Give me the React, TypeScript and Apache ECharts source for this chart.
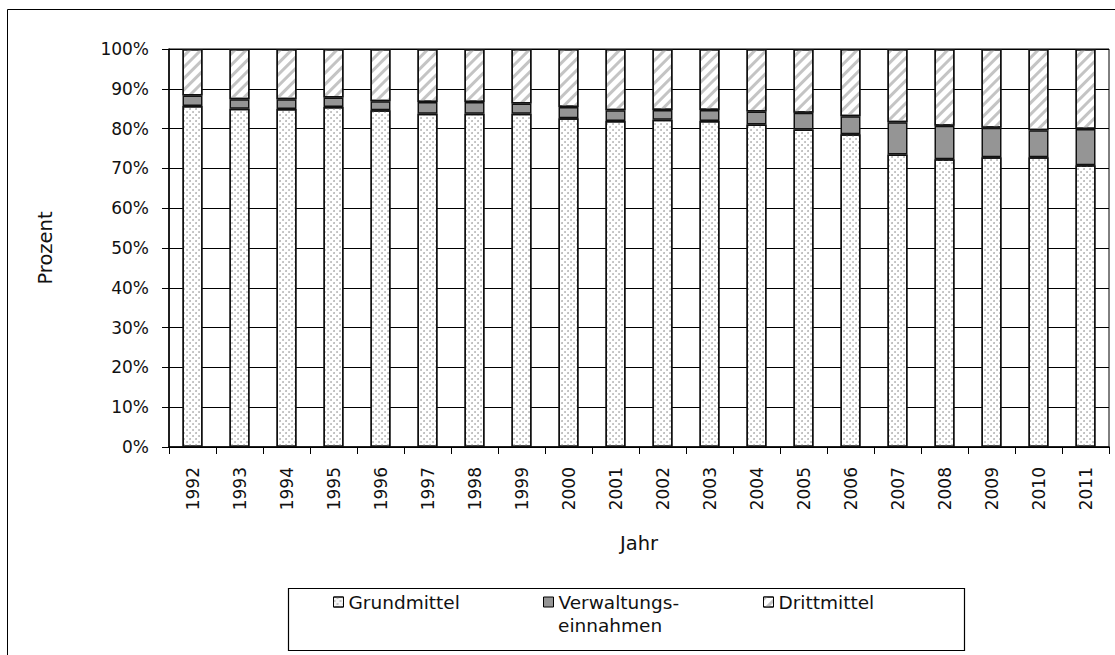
import React, { useEffect, useRef } from "react";
import * as echarts from "echarts";

const years = ["1992","1993","1994","1995","1996","1997","1998","1999","2000","2001","2002","2003","2004","2005","2006","2007","2008","2009","2010","2011"];
const grundmittel = [85.7,85.0,84.9,85.4,84.6,83.7,83.7,83.7,82.6,81.9,82.2,81.9,81.0,79.8,78.6,73.5,72.3,72.8,72.8,70.8];
const verwaltung = [2.6,2.4,2.5,2.4,2.3,3.0,3.0,2.6,2.8,2.7,2.5,2.8,3.3,4.2,4.5,8.1,8.4,7.4,6.8,9.1];
const drittmittel = [11.7,12.6,12.6,12.2,13.1,13.3,13.3,13.7,14.6,15.4,15.3,15.3,15.7,16.0,16.9,18.4,19.3,19.8,20.4,20.1];
const yTicks = [0,10,20,30,40,50,60,70,80,90,100];

const FONT = "DejaVu Sans";
const FS = 17;
const FS2 = 18.5;

const dotDecal = {
  symbol: "circle",
  symbolSize: 0.9,
  color: "#b0b0b0",
  dashArrayX: [[1.6, 3.4], [0, 2.5, 1.6, 0.9]],
  dashArrayY: [1.6, 0.9],
};
const stripeDecal = {
  symbol: "rect",
  symbolSize: 1,
  color: "#c4c4c4",
  dashArrayX: [1, 0],
  dashArrayY: [3, 5],
  rotation: -Math.PI / 4,
};

export default function App() {
  const ref = useRef<HTMLDivElement>(null);
  useEffect(() => {
    const chart = echarts.init(ref.current!, undefined, { renderer: "svg" });
    const border = { borderColor: "#111", borderWidth: 1.5 };
    const legendBase = {
      orient: "horizontal",
      icon: "rect",
      itemWidth: 10,
      itemHeight: 10,
      itemGap: 0,
      padding: 0,
      selectedMode: false,
      itemStyle: { borderColor: "#000", borderWidth: 1 },
      textStyle: { fontFamily: FONT, fontSize: FS2, color: "#111", lineHeight: 22 },
    };
    chart.setOption({
      animation: false,
      backgroundColor: "#fff",
      textStyle: { fontFamily: FONT },
      grid: {
        left: 169,
        right: 6,
        top: 49,
        bottom: 208,
        show: true,
        borderColor: "#000",
        borderWidth: 1,
        backgroundColor: "transparent",
      },
      xAxis: {
        type: "category",
        data: years,
        boundaryGap: true,
        name: "Jahr",
        nameLocation: "middle",
        nameGap: 86,
        nameTextStyle: { fontFamily: FONT, fontSize: FS2 + 1, color: "#111" },
        axisLine: { lineStyle: { color: "#000", width: 1.5 } },
        axisTick: { show: true, length: 7, interval: 0, alignWithLabel: false, lineStyle: { color: "#000" } },
        axisLabel: { rotate: 90, margin: 20, interval: 0, fontFamily: FONT, fontSize: FS, color: "#111" },
      },
      yAxis: {
        type: "value",
        min: 0,
        max: 100,
        interval: 10,
        name: "Prozent",
        nameLocation: "middle",
        nameGap: 114,
        nameTextStyle: { fontFamily: FONT, fontSize: FS2 + 1, color: "#111" },
        axisLine: { show: true, lineStyle: { color: "#000", width: 1.5 } },
        axisTick: { show: true, length: 7, lineStyle: { color: "#000" } },
        axisLabel: {
          margin: 20,
          fontFamily: FONT,
          fontSize: FS,
          color: "#111",
          formatter: (v: number) => (yTicks.includes(v) ? v + "%" : ""),
        },
        splitLine: { show: true, lineStyle: { color: "#000", width: 1 } },
      },
      legend: [
        {
          ...legendBase,
          data: [{ name: "Grundmittel", itemStyle: { color: "#f4f4f4", decal: dotDecal } }],
          left: 333,
          top: 591,
        },
        {
          ...legendBase,
          data: ["Verwaltungseinnahmen"],
          left: 543,
          top: 591,
          formatter: () => "Verwaltungs-",
        },
        {
          ...legendBase,
          data: [{ name: "Drittmittel", itemStyle: { color: "#fff", decal: stripeDecal } }],
          left: 763,
          top: 591,
        },
      ],
      graphic: [
        {
          type: "rect",
          silent: true,
          shape: { x: 7.5, y: 9.5, width: 1120, height: 700 },
          style: { fill: "none", stroke: "#000", lineWidth: 1 },
          z: 100,
        },
        {
          type: "rect",
          silent: true,
          shape: { x: 288.5, y: 588.5, width: 676, height: 62 },
          style: { fill: "none", stroke: "#000", lineWidth: 1.2 },
          z: 100,
        },
        {
          type: "text",
          silent: true,
          x: 558,
          y: 625,
          style: {
            text: "einnahmen",
            font: `${FS2}px "${FONT}"`,
            fill: "#111",
            textVerticalAlign: "middle",
            textAlign: "left",
          },
          z: 100,
        },
      ],
      series: [
        {
          name: "Grundmittel",
          type: "bar",
          stack: "total",
          barWidth: 20,
          data: grundmittel,
          itemStyle: { color: "#fff", decal: dotDecal, ...border },
        },
        {
          name: "Verwaltungseinnahmen",
          type: "bar",
          stack: "total",
          barWidth: 20,
          data: verwaltung,
          itemStyle: { color: "#959595", ...border },
        },
        {
          name: "Drittmittel",
          type: "bar",
          stack: "total",
          barWidth: 20,
          data: drittmittel,
          itemStyle: { color: "#fff", decal: stripeDecal, ...border },
        },
      ],
    });
    return () => chart.dispose();
  }, []);
  return (
    <div
      ref={ref}
      style={{ position: "fixed", left: 0, top: 0, width: 1115, height: 655, background: "#fff" }}
    />
  );
}
